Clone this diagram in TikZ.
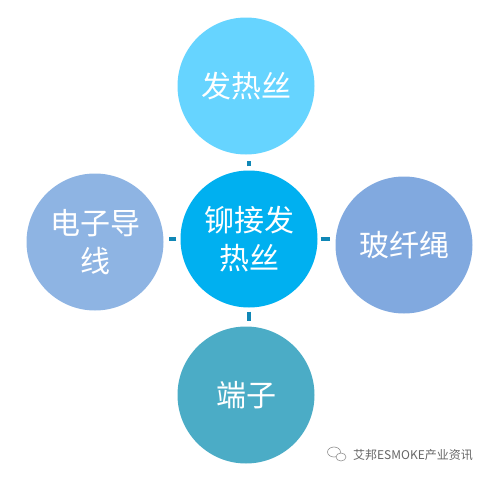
\documentclass[tikz,border=0pt]{standalone}
\usepackage{fontspec}
\setmainfont{Noto Sans CJK SC}
\begin{document}
\begin{tikzpicture}[x=1pt,y=-1pt,
  bub/.style={circle,minimum size=137pt,inner sep=0pt,draw=none,text=white,align=center,
    font=\fontsize{30pt}{38pt}\selectfont},
  conn/.style={draw=linkc,line width=4pt}]
\definecolor{ctop}{HTML}{66D4FF}
\definecolor{cmid}{HTML}{00B0F0}
\definecolor{cleft}{HTML}{8EB4E3}
\definecolor{cright}{HTML}{81A9DF}
\definecolor{cbot}{HTML}{4BACC6}
\definecolor{linkc}{HTML}{1087B6}
\useasboundingbox (0,0) rectangle (488,477);
\node[bub,fill=cmid] (c) at (249,239) {铆接发\\热丝};
\node[bub,fill=ctop] (t) at (246,86) {发热丝};
\node[bub,fill=cbot] (b) at (246,395) {端子};
\node[bub,fill=cleft] (l) at (95,242) {电子导\\线};
\node[bub,fill=cright] (r) at (404,245) {玻纤绳};
\draw[conn,shorten <=4pt,shorten >=6pt] (c.north) -- (c.north |- t.south);
\draw[conn,shorten <=4pt,shorten >=5pt] (c.south) -- (c.south |- b.north);
\draw[conn,shorten <=4pt,shorten >=5pt] (c.west) -- (c.west -| l.east);
\draw[conn,shorten <=3pt,shorten >=5pt] (c.east) -- (c.east -| r.west);
\node[text=black!60,font=\fontsize{12pt}{14pt}\selectfont,inner sep=0pt] (wm) at (413,455) {艾邦ESMOKE产业资讯};
\draw[black!45,line width=0.6pt] (334,452) ellipse [x radius=6.5pt,y radius=5pt];
\draw[black!45,line width=0.6pt,fill=white] (341,457) ellipse [x radius=5pt,y radius=4pt];
\end{tikzpicture}
\end{document}
